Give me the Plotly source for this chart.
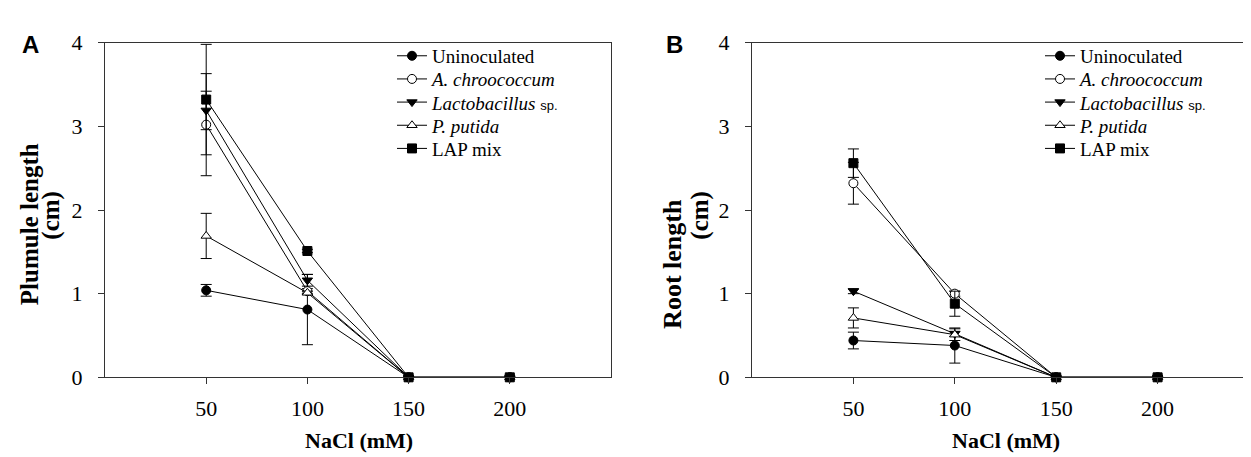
import plotly.graph_objects as go

W, H = 1251, 457

nacl = [50, 100, 150, 200]
series_names = ["Uninoculated", "<i>A. chroococcum</i>",
                "<i>Lactobacillus</i> <span style='font-family:Arial, Liberation Sans;font-size:13px'>sp.</span>",
                "<i>P. putida</i>", "LAP mix"]

# Panel A: plumule length (cm)
plumule_uninoc = [1.04, 0.81, 0.0, 0.0]
plumule_uninoc_err = [0.07, 0.42, 0.0, 0.0]
plumule_achro = [3.02, 1.03, 0.0, 0.0]
plumule_achro_err = [0.61, 0.03, 0.0, 0.0]
plumule_lacto = [3.19, 1.16, 0.0, 0.0]
plumule_lacto_err = [0.23, 0.07, 0.0, 0.0]
plumule_pput = [1.69, 1.01, 0.0, 0.0]
plumule_pput_err = [0.27, 0.02, 0.0, 0.0]
plumule_lap = [3.32, 1.51, 0.0, 0.0]
plumule_lap_err = [0.66, 0.02, 0.0, 0.0]

# Panel B: root length (cm)
root_uninoc = [0.44, 0.38, 0.0, 0.0]
root_uninoc_err = [0.10, 0.21, 0.0, 0.0]
root_achro = [2.32, 1.00, 0.0, 0.0]
root_achro_err = [0.25, 0.03, 0.0, 0.0]
root_lacto = [1.03, 0.52, 0.0, 0.0]
root_lacto_err = [0.03, 0.03, 0.0, 0.0]
root_pput = [0.71, 0.51, 0.0, 0.0]
root_pput_err = [0.12, 0.07, 0.0, 0.0]
root_lap = [2.56, 0.88, 0.0, 0.0]
root_lap_err = [0.17, 0.15, 0.0, 0.0]

x_ticks = [50, 100, 150, 200]
y_ticks = [0, 1, 2, 3, 4]

SERIF = "Times New Roman, Liberation Serif, serif"
SANS = "Arial, Liberation Sans, sans-serif"

styles = [
    dict(symbol="circle", color="black"),
    dict(symbol="circle", color="white"),
    dict(symbol="triangle-down", color="black"),
    dict(symbol="triangle-up", color="white"),
    dict(symbol="square", color="black"),
]

panelA = [(plumule_uninoc, plumule_uninoc_err), (plumule_achro, plumule_achro_err),
          (plumule_lacto, plumule_lacto_err), (plumule_pput, plumule_pput_err),
          (plumule_lap, plumule_lap_err)]
panelB = [(root_uninoc, root_uninoc_err), (root_achro, root_achro_err),
          (root_lacto, root_lacto_err), (root_pput, root_pput_err),
          (root_lap, root_lap_err)]


def px_x(p):
    return p / W


def px_y(p):
    return 1 - p / H


legend_rows = [38, 62.5, 87, 111.5, 136]
legend_left = {"A": 384, "B": 1032}

fig = go.Figure()
layout_legends = {}
k = 0
for pname, panel, xa, ya in [("A", panelA, "x", "y"), ("B", panelB, "x2", "y2")]:
    for i, ((vals, errs), name, st) in enumerate(zip(panel, series_names, styles)):
        k += 1
        lname = "legend" if k == 1 else "legend%d" % k
        layout_legends[lname] = dict(
            x=px_x(legend_left[pname]), y=px_y(legend_rows[i]),
            xanchor="left", yanchor="middle",
            bgcolor="rgba(0,0,0,0)", borderwidth=0,
            font=dict(family=SERIF, size=19, color="black"))
        fig.add_trace(go.Scatter(
            x=nacl, y=vals, name=name, mode="lines+markers",
            xaxis=xa, yaxis=ya, legend=lname, cliponaxis=False,
            line=dict(color="black", width=1),
            marker=dict(symbol=st["symbol"], size=9, color=st["color"],
                        line=dict(color="black", width=1)),
            error_y=dict(type="data", array=errs, visible=True, color="black",
                         thickness=1, width=5.5),
        ))

axis_common = dict(
    showgrid=False, zeroline=False, showline=True, linecolor="#333333", linewidth=1.2,
    ticks="outside", ticklen=6, tickcolor="#333333",
    tickfont=dict(family=SERIF, size=22, color="black"),
)

fig.update_layout(
    width=W, height=H,
    margin=dict(l=0, r=0, t=0, b=0),
    paper_bgcolor="white", plot_bgcolor="white",
    xaxis=dict(domain=[px_x(97), px_x(603)], range=[0, 250], tickvals=x_ticks,
               mirror=True, anchor="y", ticklabelstandoff=5, **axis_common),
    yaxis=dict(domain=[px_y(378), px_y(24)], range=[0, 4], tickvals=y_ticks,
               mirror=True, anchor="x", ticklabelstandoff=11, **axis_common),
    xaxis2=dict(domain=[px_x(744), 1.0], range=[0, 250], tickvals=x_ticks,
                mirror=True, anchor="y2", ticklabelstandoff=5, **axis_common),
    yaxis2=dict(domain=[px_y(378), px_y(24)], range=[0, 4], tickvals=y_ticks,
                mirror=False, anchor="x2", ticklabelstandoff=11, **axis_common),
    showlegend=True,
    **layout_legends,
)

annots = [
    dict(text="<b>NaCl (mM)</b>", x=px_x(351), y=px_y(445)),
    dict(text="<b>NaCl (mM)</b>", x=px_x(998), y=px_y(445)),
    dict(text="<b>Plumule length</b>", x=px_x(21), y=px_y(216), textangle=-90, size=25),
    dict(text="<b>(cm)</b>", x=px_x(43), y=px_y(207), textangle=-90, size=25),
    dict(text="<b>Root length</b>", x=px_x(665), y=px_y(258), textangle=-90, size=26),
    dict(text="<b>(cm)</b>", x=px_x(692), y=px_y(207), textangle=-90, size=25),
]
for a in annots:
    fig.add_annotation(text=a["text"], x=a["x"], y=a["y"], xref="paper", yref="paper",
                       xanchor="center", yanchor="middle", showarrow=False,
                       textangle=a.get("textangle", 0),
                       font=dict(family=SERIF, size=a.get("size", 22), color="black"))

for lab, xp in [("A", 22), ("B", 666)]:
    fig.add_annotation(text="<b>" + lab + "</b>", x=px_x(xp), y=px_y(26), xref="paper",
                       yref="paper", xanchor="center", yanchor="middle", showarrow=False,
                       font=dict(family=SANS, size=24, color="black"))

fig.write_html("out.html")
